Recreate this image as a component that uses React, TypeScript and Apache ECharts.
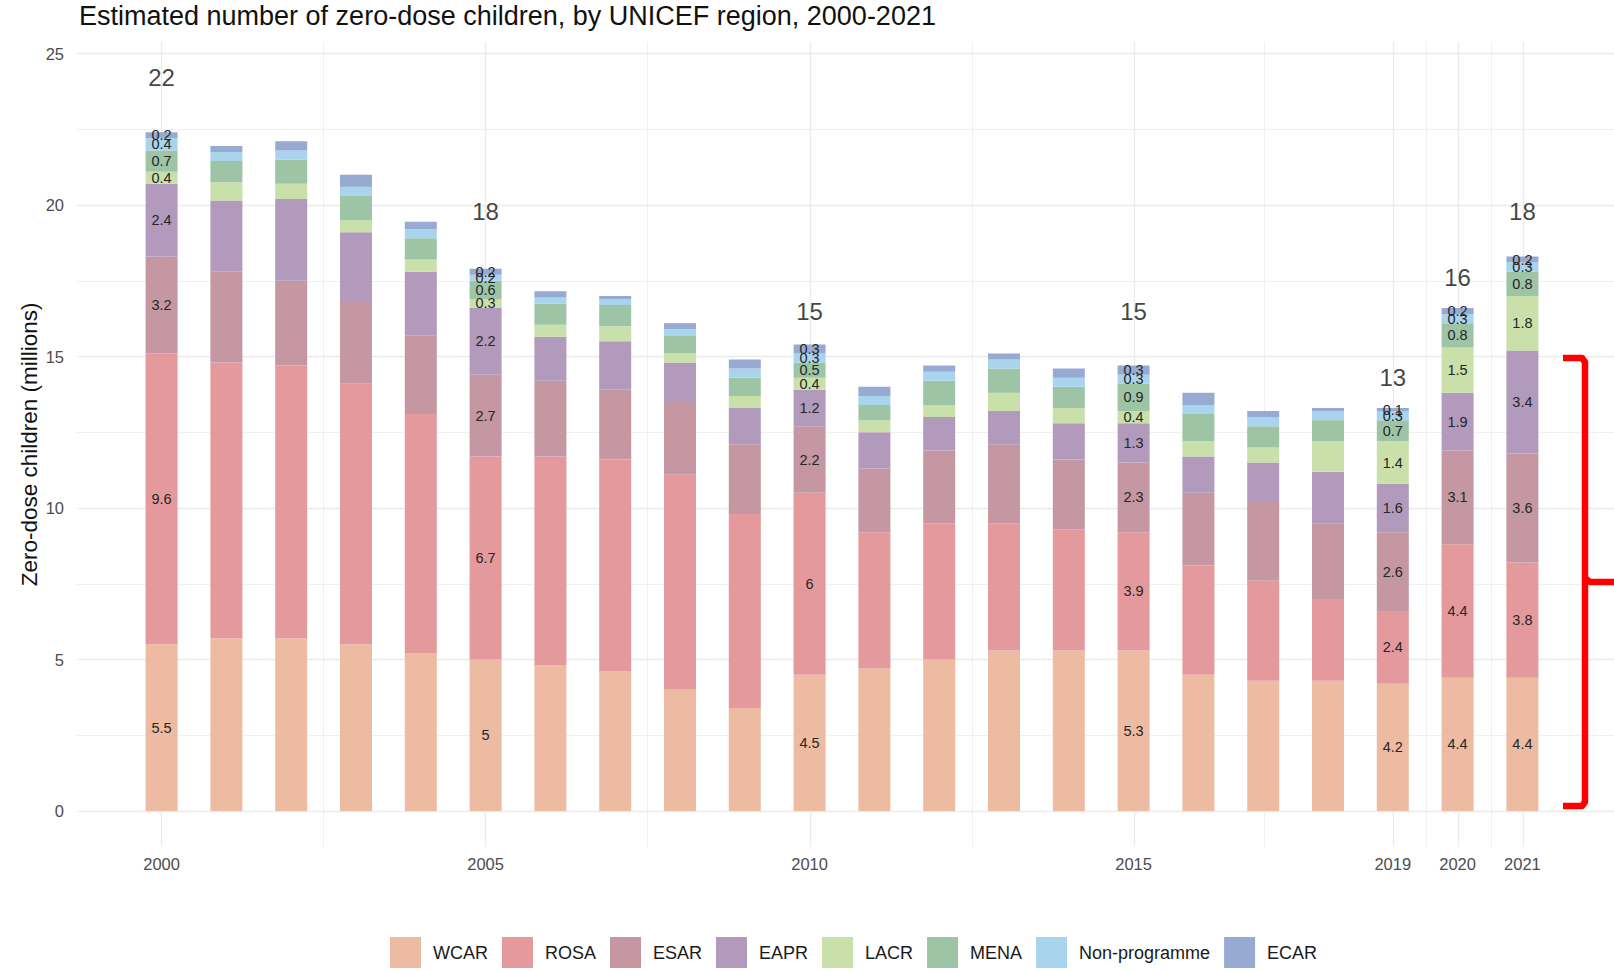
import React, { useEffect, useRef } from 'react';
import * as echarts from 'echarts';

const years = ['2000','2001','2002','2003','2004','2005','2006','2007','2008','2009','2010','2011','2012','2013','2014','2015','2016','2017','2018','2019','2020','2021'];
const labeledYears = ['2000','2005','2010','2015','2019','2020','2021'];

const wcar = [5.5,5.7,5.7,5.5,5.2,5.0,4.8,4.6,4.0,3.4,4.5,4.7,5.0,5.3,5.3,5.3,4.5,4.3,4.3,4.2,4.4,4.4];
const rosa = [9.6,9.1,9.0,8.6,7.9,6.7,6.9,7.0,7.1,6.4,6.0,4.5,4.5,4.2,4.0,3.9,3.6,3.3,2.7,2.4,4.4,3.8];
const esar = [3.2,3.0,2.8,2.7,2.6,2.7,2.5,2.3,2.4,2.3,2.2,2.1,2.4,2.6,2.3,2.3,2.4,2.6,2.5,2.6,3.1,3.6];
const eapr = [2.4,2.35,2.7,2.3,2.1,2.2,1.45,1.6,1.3,1.2,1.2,1.2,1.1,1.1,1.2,1.3,1.2,1.3,1.7,1.6,1.9,3.4];
const lacr = [0.4,0.6,0.5,0.4,0.4,0.3,0.4,0.5,0.3,0.4,0.4,0.4,0.4,0.6,0.5,0.4,0.5,0.5,1.0,1.4,1.5,1.8];
const mena = [0.7,0.7,0.8,0.8,0.7,0.6,0.7,0.7,0.6,0.6,0.5,0.5,0.8,0.8,0.7,0.9,0.9,0.7,0.7,0.7,0.8,0.8];
const nonProgramme = [0.4,0.3,0.3,0.3,0.3,0.2,0.2,0.2,0.2,0.3,0.3,0.3,0.3,0.3,0.3,0.3,0.3,0.3,0.3,0.3,0.3,0.3];
const ecar = [0.2,0.2,0.3,0.4,0.25,0.2,0.2,0.1,0.2,0.3,0.3,0.3,0.2,0.2,0.3,0.3,0.4,0.2,0.1,0.1,0.2,0.2];
const totalLabels: (number | null)[] = [22,null,null,null,null,18,null,null,null,null,15,null,null,null,null,15,null,null,null,13,16,18];

const seriesNames = ['WCAR','ROSA','ESAR','EAPR','LACR','MENA','Non-programme','ECAR'];
const seriesValues = [wcar, rosa, esar, eapr, lacr, mena, nonProgramme, ecar];
const seriesColors = ['#EDBBA1','#E49A9D','#C497A3','#B29ABD','#C9E0AA','#9EC4A6','#A9D4EE','#97AAD2'];

const majorX = [2000, 2005, 2010, 2015, 2019, 2020, 2021];
const minorX = [2002.5, 2007.5, 2012.5, 2017, 2019.5, 2020.5];

const FONT = '"Liberation Sans", Arial, Helvetica, sans-serif';

export default function App() {
  const ref = useRef<HTMLDivElement>(null);
  useEffect(() => {
    const chart = echarts.init(ref.current!, null, { renderer: 'svg' });
    const barSeries = seriesNames.map((name, s) => ({
      name,
      type: 'bar',
      stack: 'total',
      xAxisIndex: 0,
      yAxisIndex: 0,
      barWidth: 32,
      z: 3,
      itemStyle: { color: seriesColors[s] },
      label: { show: false, position: 'inside', color: '#262626', fontSize: 14.5, fontFamily: FONT },
      data: seriesValues[s].map((v, i) =>
        labeledYears.includes(years[i]) ? { value: v, label: { show: true } } : v
      ),
    }));
    const option: any = {
      animation: false,
      backgroundColor: '#ffffff',
      textStyle: { fontFamily: FONT },
      title: {
        text: 'Estimated number of zero-dose children, by UNICEF region, 2000-2021',
        left: 74,
        top: -3,
        textStyle: { fontSize: 27, fontWeight: 'normal', color: '#111', fontFamily: FONT },
      },
      legend: {
        data: seriesNames,
        top: 932,
        left: 385,
        icon: 'rect',
        itemWidth: 31,
        itemHeight: 31,
        itemGap: 14,
        textStyle: { fontSize: 18, color: '#1a1a1a', fontFamily: FONT, padding: [0, 0, 0, 7] },
      },
      grid: [
        { left: 129.2, width: 1425.6, top: 53.5, height: 757.5 },
        { left: 77, right: 0, top: 53.5, height: 757.5 },
        { left: 77, right: 0, top: 41.7, height: 805.3 },
      ],
      xAxis: [
        {
          type: 'category',
          gridIndex: 0,
          data: years,
          axisLine: { show: false },
          axisTick: { show: false },
          splitLine: { show: false },
          axisLabel: {
            interval: (index: number) => labeledYears.includes(years[index]),
            margin: 44,
            color: '#4D4D4D',
            fontSize: 16.5,
            fontFamily: FONT,
          },
        },
        { type: 'value', gridIndex: 1, min: 0, max: 1, show: false },
        { type: 'value', gridIndex: 2, min: 1998.7, max: 2022.4, show: false },
      ],
      yAxis: [
        { type: 'value', gridIndex: 0, min: 0, max: 25, show: false },
        {
          type: 'value',
          gridIndex: 1,
          min: 0,
          max: 25,
          interval: 5,
          axisLine: { show: false },
          axisTick: { show: false },
          axisLabel: { color: '#4D4D4D', fontSize: 16.5, margin: 13, fontFamily: FONT },
          splitLine: { show: true, lineStyle: { color: '#EBEBEB', width: 1.3 } },
          minorTick: { show: false, splitNumber: 2 },
          minorSplitLine: { show: true, lineStyle: { color: '#F0F0F0', width: 1 } },
        },
        {
          type: 'value',
          gridIndex: 2,
          min: 0,
          max: 1,
          axisLine: { show: false },
          axisTick: { show: false },
          axisLabel: { show: false },
          splitLine: { show: false },
          name: 'Zero-dose children (millions)',
          nameLocation: 'middle',
          nameGap: 36,
          nameTextStyle: { fontSize: 22.5, color: '#111', fontFamily: FONT },
        },
      ],
      series: [
        {
          type: 'line',
          xAxisIndex: 2,
          yAxisIndex: 2,
          data: [[2000, -5]],
          symbol: 'none',
          silent: true,
          z: 0,
          zlevel: 0,
          lineStyle: { opacity: 0 },
          markLine: {
            silent: true,
            z: 0,
            symbol: ['none', 'none'],
            label: { show: false },
            animation: false,
            data: [
              ...majorX.map((x) => ({ xAxis: x, lineStyle: { color: '#EBEBEB', width: 1.3, type: 'solid' } })),
              ...minorX.map((x) => ({ xAxis: x, lineStyle: { color: '#F0F0F0', width: 1, type: 'solid' } })),
            ],
          },
        },
        ...barSeries,
        {
          type: 'scatter',
          xAxisIndex: 0,
          yAxisIndex: 0,
          symbolSize: 0,
          silent: true,
          z: 4,
          data: totalLabels.map((t) => (t == null ? '-' : t * 1.1)),
          label: {
            show: true,
            position: 'inside',
            formatter: (p: any) => String(totalLabels[p.dataIndex]),
            fontSize: 24,
            color: '#111',
            fontFamily: FONT,
          },
        },
      ],
      graphic: [
        {
          type: 'polyline',
          z: 10,
          shape: { points: [[1563, 358], [1582, 358], [1585, 362], [1585, 802], [1582, 806], [1563, 806]] },
          style: { stroke: '#FF0000', lineWidth: 6.5, fill: 'none', lineJoin: 'round', lineCap: 'butt' },
        },
        {
          type: 'polyline',
          z: 10,
          shape: { points: [[1585, 578], [1590, 582], [1614, 582]] },
          style: { stroke: '#FF0000', lineWidth: 6.5, fill: 'none', lineJoin: 'round' },
        },
      ],
    };
    chart.setOption(option);
    return () => chart.dispose();
  }, []);
  return (
    <div
      ref={ref}
      style={{ position: 'fixed', left: 0, top: 0, width: 1614, height: 972, background: '#fff' }}
    />
  );
}
